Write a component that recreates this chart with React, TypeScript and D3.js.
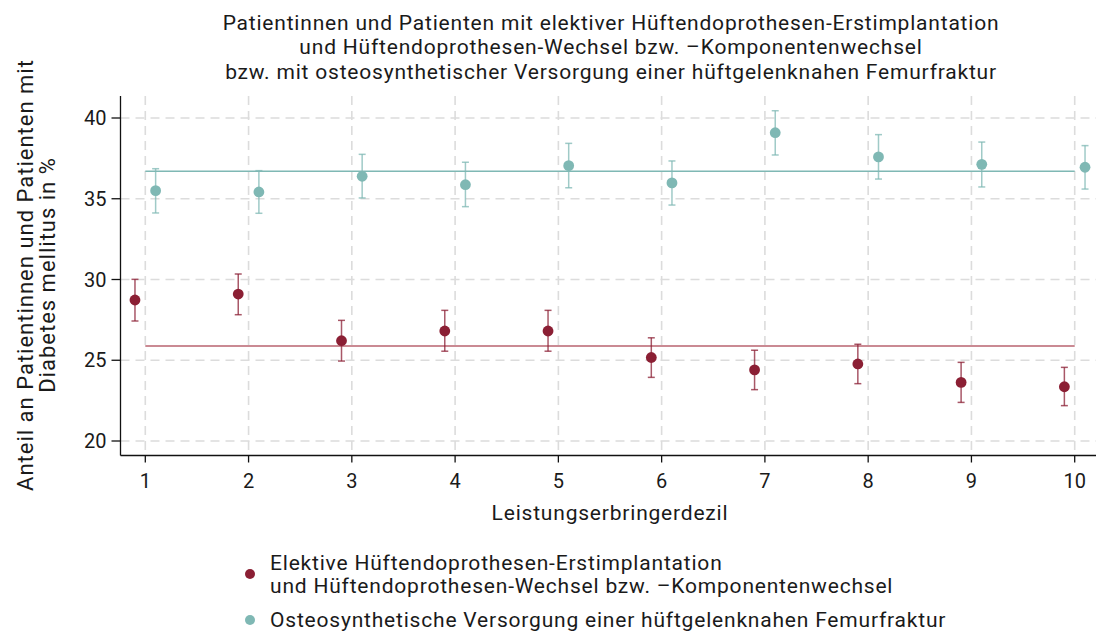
import React from "react";
import * as d3 from "d3";

const deciles = [1, 2, 3, 4, 5, 6, 7, 8, 9, 10];
const redValues = [28.73, 29.1, 26.21, 26.81, 26.81, 25.17, 24.4, 24.77, 23.63, 23.36];
const redUpper = [30.01, 30.34, 27.47, 28.09, 28.09, 26.39, 25.62, 25.99, 24.87, 24.56];
const redLower = [27.43, 27.82, 24.95, 25.56, 25.56, 23.94, 23.18, 23.55, 22.39, 22.19];
const redMean = 25.88;
const tealValues = [35.5, 35.42, 36.39, 35.87, 37.05, 35.98, 39.09, 37.59, 37.13, 36.95];
const tealUpper = [36.86, 36.74, 37.75, 37.26, 38.43, 37.34, 40.45, 38.97, 38.51, 38.29];
const tealLower = [34.12, 34.1, 35.05, 34.51, 35.68, 34.61, 37.71, 36.22, 35.73, 35.6];
const tealMean = 36.7;
const yTicks = [20, 25, 30, 35, 40];
const titleLines = [
  "Patientinnen und Patienten mit elektiver Hüftendoprothesen-Erstimplantation",
  "und Hüftendoprothesen-Wechsel bzw. –Komponentenwechsel",
  "bzw. mit osteosynthetischer Versorgung einer hüftgelenknahen Femurfraktur",
];
const yLabelLines = ["Anteil an Patientinnen und Patienten mit", "Diabetes mellitus in %"];
const xLabel = "Leistungserbringerdezil";
const legendRed = ["Elektive Hüftendoprothesen-Erstimplantation", "und Hüftendoprothesen-Wechsel bzw. –Komponentenwechsel"];
const legendTeal = "Osteosynthetische Versorgung einer hüftgelenknahen Femurfraktur";

const RED = "#8b1f34";
const RED_LINE = "#b8636f";
const TEAL = "#7fb8b4";
const FONT = "Roboto, sans-serif";
const TXT = "#1a1a1a";

export default function App() {
  const W = 1096, H = 632;
  const x = d3.scaleLinear().domain([1, 10]).range([145.3, 1074.7]);
  const y = d3.scaleLinear().domain([20, 40]).range([441, 118]);
  const left = 120.5, right = 1096, top = 96, bottom = 455.5;
  const off = 0.1;
  const cap = 3.5;

  const series = [
    { vals: redValues, up: redUpper, lo: redLower, color: RED, dx: -off, mean: redMean, meanColor: RED_LINE },
    { vals: tealValues, up: tealUpper, lo: tealLower, color: TEAL, dx: off, mean: tealMean, meanColor: TEAL },
  ];

  return (
    <svg width={W} height={H} style={{ display: "block", position: "absolute", left: 0, top: 0 }} fontFamily={FONT}>
      <rect width={W} height={H} fill="#fff" />
      {/* title */}
      {titleLines.map((t, i) => (
        <text key={i} x={611} y={29.5 + i * 24.5} textAnchor="middle" fontSize={21} letterSpacing={0.8} fill={TXT}>{t}</text>
      ))}
      {/* grid */}
      {deciles.map((d) => (
        <line key={"gv" + d} x1={x(d)} x2={x(d)} y1={top} y2={bottom} stroke="#dcdcdc" strokeWidth={1.6} strokeDasharray="9,6" />
      ))}
      {yTicks.map((t) => (
        <line key={"gh" + t} x1={left} x2={right} y1={y(t)} y2={y(t)} stroke="#dcdcdc" strokeWidth={1.6} strokeDasharray="9,6" />
      ))}
      {/* axes */}
      <line x1={left} x2={left} y1={top} y2={bottom} stroke="#111" strokeWidth={1.3} />
      <line x1={left} x2={right} y1={bottom} y2={bottom} stroke="#111" strokeWidth={1.3} />
      {yTicks.map((t) => (
        <g key={"yt" + t}>
          <line x1={left - 9} x2={left} y1={y(t)} y2={y(t)} stroke="#111" strokeWidth={1.3} />
          <text x={left - 14} y={y(t)} dy="0.35em" textAnchor="end" fontSize={20} fill={TXT}>{t}</text>
        </g>
      ))}
      {deciles.map((d) => (
        <g key={"xt" + d}>
          <line x1={x(d)} x2={x(d)} y1={bottom} y2={bottom + 7} stroke="#111" strokeWidth={1.3} />
          <text x={x(d)} y={481} dy="0.35em" textAnchor="middle" fontSize={20} fill={TXT}>{d}</text>
        </g>
      ))}
      <text x={610} y={513} dy="0.35em" textAnchor="middle" fontSize={21} letterSpacing={0.8} fill={TXT}>{xLabel}</text>
      {yLabelLines.map((t, i) => (
        <text key={i} transform={`translate(${25 + i * 22},275) rotate(-90)`} dy="0.35em" textAnchor="middle" fontSize={22} letterSpacing={1} fill={TXT}>{t}</text>
      ))}
      {/* mean lines */}
      {series.map((s, i) => (
        <line key={"m" + i} x1={x(1)} x2={x(10)} y1={y(s.mean)} y2={y(s.mean)} stroke={s.meanColor} strokeWidth={1.6} />
      ))}
      {/* error bars and points */}
      {series.map((s, si) => (
        <g key={"s" + si}>
          {deciles.map((d, i) => {
            const cx = x(d + s.dx);
            return (
              <g key={i}>
                <g stroke={s.color} strokeOpacity={0.75} strokeWidth={1.5}>
                  <line x1={cx} x2={cx} y1={y(s.up[i])} y2={y(s.lo[i])} />
                  <line x1={cx - cap} x2={cx + cap} y1={y(s.up[i])} y2={y(s.up[i])} />
                  <line x1={cx - cap} x2={cx + cap} y1={y(s.lo[i])} y2={y(s.lo[i])} />
                </g>
                <circle cx={cx} cy={y(s.vals[i])} r={5.4} fill={s.color} />
              </g>
            );
          })}
        </g>
      ))}
      {/* legend */}
      <circle cx={250} cy={574} r={5} fill={RED} />
      {legendRed.map((t, i) => (
        <text key={i} x={270} y={563 + i * 23} dy="0.35em" fontSize={21} letterSpacing={0.8} fill={TXT}>{t}</text>
      ))}
      <circle cx={250} cy={620} r={5} fill={TEAL} />
      <text x={270} y={620} dy="0.35em" fontSize={21} letterSpacing={0.8} fill={TXT}>{legendTeal}</text>
    </svg>
  );
}
